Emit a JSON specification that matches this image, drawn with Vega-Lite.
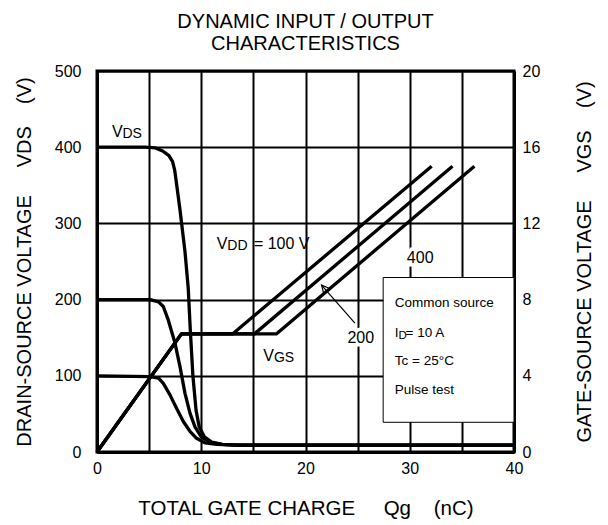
{
  "$schema": "https://vega.github.io/schema/vega-lite/v6.json",
  "width": 417,
  "height": 381,
  "autosize": {"type": "none"},
  "padding": {"left": 97, "top": 71, "right": 94, "bottom": 73},
  "background": "white",
  "config": {
    "font": "Liberation Sans",
    "view": {"stroke": "black", "strokeWidth": 3},
    "axis": {
      "labelFont": "Liberation Sans",
      "titleFont": "Liberation Sans",
      "labelColor": "black",
      "titleColor": "black",
      "labelFontSize": 16,
      "titleFontSize": 20,
      "titleFontWeight": "normal",
      "ticks": false,
      "domainColor": "black",
      "domainWidth": 3,
      "gridColor": "black",
      "gridWidth": 2,
      "gridOpacity": 1
    }
  },
  "title": {
    "text": ["DYNAMIC INPUT / OUTPUT", "CHARACTERISTICS"],
    "font": "Liberation Sans",
    "fontSize": 20,
    "fontWeight": "normal",
    "color": "black",
    "lineHeight": 22,
    "anchor": "middle",
    "offset": 9
  },
  "datasets": {
    "vds": [
      {"q": 0, "v": 400, "s": "400"}, {"q": 4.6, "v": 400, "s": "400"}, {"q": 5.6, "v": 399, "s": "400"},
      {"q": 6.3, "v": 395, "s": "400"}, {"q": 6.9, "v": 389, "s": "400"}, {"q": 7.25, "v": 381, "s": "400"},
      {"q": 7.45, "v": 370, "s": "400"}, {"q": 7.6, "v": 355, "s": "400"}, {"q": 7.96, "v": 318, "s": "400"},
      {"q": 8.44, "v": 263, "s": "400"}, {"q": 8.75, "v": 215, "s": "400"}, {"q": 8.95, "v": 160, "s": "400"},
      {"q": 9.2, "v": 100, "s": "400"}, {"q": 9.5, "v": 55, "s": "400"}, {"q": 9.8, "v": 33, "s": "400"},
      {"q": 10.3, "v": 20, "s": "400"}, {"q": 11.0, "v": 13, "s": "400"}, {"q": 12.0, "v": 10, "s": "400"},
      {"q": 13.5, "v": 9, "s": "400"}, {"q": 40, "v": 9, "s": "400"},
      {"q": 0, "v": 200, "s": "200"}, {"q": 5.1, "v": 200, "s": "200"}, {"q": 5.9, "v": 197, "s": "200"},
      {"q": 6.36, "v": 191, "s": "200"}, {"q": 6.84, "v": 173, "s": "200"}, {"q": 7.48, "v": 143, "s": "200"},
      {"q": 7.96, "v": 112, "s": "200"}, {"q": 8.44, "v": 77, "s": "200"}, {"q": 8.92, "v": 51, "s": "200"},
      {"q": 9.4, "v": 33, "s": "200"}, {"q": 10.0, "v": 20, "s": "200"}, {"q": 10.8, "v": 13, "s": "200"},
      {"q": 12.0, "v": 10, "s": "200"}, {"q": 13.5, "v": 9, "s": "200"}, {"q": 40, "v": 9, "s": "200"},
      {"q": 0, "v": 100, "s": "100"}, {"q": 5.1, "v": 99, "s": "100"}, {"q": 5.9, "v": 97, "s": "100"},
      {"q": 6.36, "v": 90, "s": "100"}, {"q": 7.0, "v": 75, "s": "100"}, {"q": 7.64, "v": 57, "s": "100"},
      {"q": 8.28, "v": 40, "s": "100"}, {"q": 8.92, "v": 27, "s": "100"}, {"q": 9.55, "v": 18, "s": "100"},
      {"q": 10.35, "v": 12, "s": "100"}, {"q": 11.5, "v": 10, "s": "100"}, {"q": 13.5, "v": 9, "s": "100"},
      {"q": 40, "v": 9, "s": "100"}
    ],
    "vgs": [
      {"q": 0, "g": 0, "s": "100"}, {"q": 8.1, "g": 6.2, "s": "100"}, {"q": 13.0, "g": 6.2, "s": "100"}, {"q": 32.1, "g": 15, "s": "100"},
      {"q": 0, "g": 0, "s": "200"}, {"q": 8.1, "g": 6.2, "s": "200"}, {"q": 15.1, "g": 6.2, "s": "200"}, {"q": 34.1, "g": 15, "s": "200"},
      {"q": 0, "g": 0, "s": "400"}, {"q": 8.1, "g": 6.2, "s": "400"}, {"q": 17.2, "g": 6.2, "s": "400"}, {"q": 36.2, "g": 15, "s": "400"}
    ]
  },
  "layer": [
    {
      "layer": [
        {
          "data": {"values": [{"q": 27.45, "q2": 40, "v": 39, "v2": 229}]},
          "mark": {"type": "rect", "fill": "white", "stroke": "black", "strokeWidth": 1},
          "encoding": {
            "x": {
              "field": "q", "type": "quantitative",
              "scale": {"domain": [0, 40], "nice": false},
              "axis": {
                "values": [0, 5, 10, 15, 20, 25, 30, 35, 40],
                "labelExpr": "datum.value % 10 === 0 ? datum.label : ''",
                "labelFlush": false,
                "labelPadding": 8,
                "grid": true,
                "title": "TOTAL GATE CHARGE\u00a0\u00a0\u00a0\u00a0\u00a0Qg\u00a0\u00a0\u00a0\u00a0(nC)",
                "titleFontSize": 20.5,
                "titlePadding": 22
              }
            },
            "x2": {"field": "q2"},
            "y": {
              "field": "v", "type": "quantitative",
              "scale": {"domain": [0, 500], "nice": false},
              "axis": {
                "values": [0, 50, 100, 150, 200, 250, 300, 350, 400, 450, 500],
                "labelExpr": "datum.value % 100 === 0 ? datum.label : ''",
                "labelPadding": 16,
                "grid": true,
                "title": "DRAIN-SOURCE VOLTAGE\u00a0\u00a0\u00a0\u00a0\u00a0VDS\u00a0\u00a0\u00a0\u00a0(V)",
                "titlePadding": 20
              }
            },
            "y2": {"field": "v2"}
          }
        },
        {
          "data": {"name": "vds"},
          "mark": {"type": "line", "color": "black", "strokeWidth": 3.3, "strokeJoin": "round"},
          "encoding": {
            "x": {"field": "q", "type": "quantitative"},
            "y": {"field": "v", "type": "quantitative"},
            "detail": {"field": "s"}
          }
        },
        {
          "data": {"values": [{"q": 24.74, "v": 169}, {"q": 21.54, "v": 219}]},
          "mark": {"type": "line", "color": "black", "strokeWidth": 1.2},
          "encoding": {
            "x": {"field": "q", "type": "quantitative"},
            "y": {"field": "v", "type": "quantitative"}
          }
        },
        {
          "data": {"values": [{"q": 21.54, "v": 219}]},
          "mark": {"type": "point", "shape": "M-0.5,1L0,0L0.5,1", "filled": false, "stroke": "black", "strokeWidth": 1.2, "size": 256, "angle": 319, "opacity": 1},
          "encoding": {
            "x": {"field": "q", "type": "quantitative"},
            "y": {"field": "v", "type": "quantitative"}
          }
        },
        {
          "data": {"values": [{"q": 31.0, "v": 255, "t": "400"}, {"q": 25.3, "v": 149, "t": "200"}]},
          "mark": {"type": "text", "fontSize": 16, "align": "center", "baseline": "middle", "stroke": "white", "strokeWidth": 7, "fill": "white"},
          "encoding": {
            "x": {"field": "q", "type": "quantitative"},
            "y": {"field": "v", "type": "quantitative"},
            "text": {"field": "t"}
          }
        },
        {
          "data": {"values": [{"q": 31.0, "v": 255, "t": "400"}, {"q": 25.3, "v": 149, "t": "200"}]},
          "mark": {"type": "text", "fontSize": 16, "align": "center", "baseline": "middle", "color": "black"},
          "encoding": {
            "x": {"field": "q", "type": "quantitative"},
            "y": {"field": "v", "type": "quantitative"},
            "text": {"field": "t"}
          }
        },
        {
          "data": {"values": [
            {"q": 1.44, "v": 414, "t": "V"},
            {"q": 11.48, "v": 267, "t": "V"},
            {"q": 15.05, "v": 267, "t": "= 100 V"},
            {"q": 15.95, "v": 120, "t": "V"}
          ]},
          "mark": {"type": "text", "fontSize": 16, "align": "left", "baseline": "alphabetic", "color": "black"},
          "encoding": {
            "x": {"field": "q", "type": "quantitative"},
            "y": {"field": "v", "type": "quantitative"},
            "text": {"field": "t"}
          }
        },
        {
          "data": {"values": [
            {"q": 2.44, "v": 412, "t": "DS"},
            {"q": 12.5, "v": 265, "t": "DD"},
            {"q": 16.97, "v": 118, "t": "GS"}
          ]},
          "mark": {"type": "text", "fontSize": 14, "align": "left", "baseline": "alphabetic", "color": "black"},
          "encoding": {
            "x": {"field": "q", "type": "quantitative"},
            "y": {"field": "v", "type": "quantitative"},
            "text": {"field": "t"}
          }
        },
        {
          "data": {"values": [
            {"q": 28.57, "v": 190, "t": "Common source"},
            {"q": 28.57, "v": 151, "t": "I"},
            {"q": 29.6, "v": 151, "t": "= 10 A"},
            {"q": 28.57, "v": 114, "t": "Tc = 25°C"},
            {"q": 28.57, "v": 76, "t": "Pulse test"}
          ]},
          "mark": {"type": "text", "fontSize": 13.5, "align": "left", "baseline": "alphabetic", "color": "black"},
          "encoding": {
            "x": {"field": "q", "type": "quantitative"},
            "y": {"field": "v", "type": "quantitative"},
            "text": {"field": "t"}
          }
        },
        {
          "data": {"values": [{"q": 28.93, "v": 148, "t": "D"}]},
          "mark": {"type": "text", "fontSize": 11.5, "align": "left", "baseline": "alphabetic", "color": "black"},
          "encoding": {
            "x": {"field": "q", "type": "quantitative"},
            "y": {"field": "v", "type": "quantitative"},
            "text": {"field": "t"}
          }
        }
      ]
    },
    {
      "data": {"name": "vgs"},
      "mark": {"type": "line", "color": "black", "strokeWidth": 3.3, "strokeJoin": "round"},
      "encoding": {
        "x": {"field": "q", "type": "quantitative"},
        "y": {
          "field": "g", "type": "quantitative",
          "scale": {"domain": [0, 20], "nice": false},
          "axis": {
            "orient": "right",
            "values": [0, 4, 8, 12, 16, 20],
            "labelPadding": 8,
            "grid": false,
            "title": "GATE-SOURCE VOLTAGE\u00a0\u00a0\u00a0\u00a0\u00a0VGS\u00a0\u00a0\u00a0\u00a0(V)",
            "titleAngle": 270,
            "titlePadding": 55
          }
        },
        "detail": {"field": "s"}
      }
    }
  ],
  "resolve": {"scale": {"y": "independent"}, "axis": {"y": "independent"}}
}
